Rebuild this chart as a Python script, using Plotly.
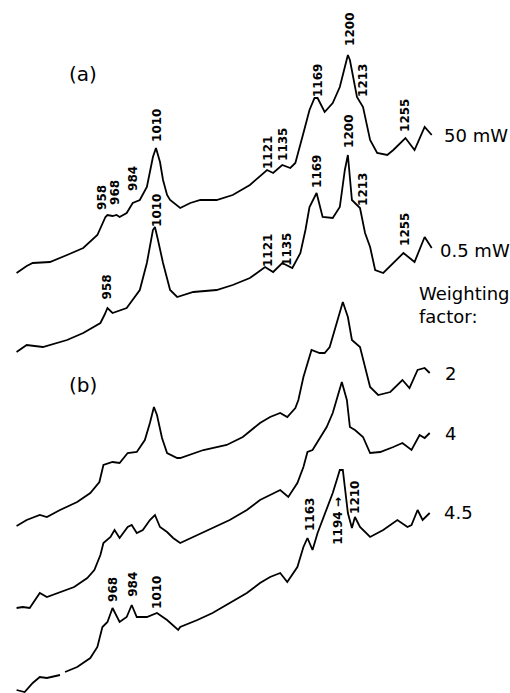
import plotly.graph_objects as go

# Wavenumbers (cm^-1) and intensities (arbitrary units, stacked)
wn_50mw = [872, 882, 888, 905, 922, 938, 952, 955, 960, 962, 967, 971, 974, 981, 987, 994, 1001, 1004,
           1007, 1010, 1012, 1014, 1017, 1021, 1024, 1034, 1044, 1054, 1070, 1086, 1103, 1120, 1126,
           1135, 1143, 1148, 1156, 1162, 1167, 1170, 1177, 1185, 1192, 1197, 1200, 1202, 1205, 1209,
           1215, 1222, 1229, 1239, 1245, 1257, 1266, 1276, 1283]
int_50mw = [420, 427, 430, 431, 438, 445, 458, 465, 476, 478, 477, 478, 476, 480, 490, 493, 506, 521,
            536, 545, 538, 531, 513, 498, 493, 485, 490, 493, 493, 498, 508, 523, 520,
            528, 525, 530, 560, 583, 595, 595, 581, 590, 606, 628, 638, 633, 616, 596,
            586, 553, 540, 538, 543, 555, 543, 566, 558]

wn_05mw = [872, 882, 898, 922, 938, 955, 959, 962, 967, 981, 994, 1001, 1007, 1009, 1012, 1017, 1024,
           1031, 1047, 1070, 1086, 1103, 1118, 1126, 1135, 1145, 1153, 1158, 1162, 1169, 1175, 1185,
           1192, 1197, 1200, 1204, 1212, 1217, 1222, 1227, 1235, 1245, 1255, 1266, 1276, 1283]
int_05mw = [341, 348, 346, 353, 360, 370, 378, 385, 380, 385, 403, 430, 463, 466, 453, 430, 403,
            396, 401, 403, 408, 415, 426, 421, 430, 425, 440, 463, 486, 500, 476, 475,
            486, 523, 538, 493, 485, 460, 446, 423, 420, 430, 440, 431, 456, 445]

wn_w2 = [872, 882, 895, 902, 915, 932, 945, 954, 958, 967, 974, 982, 991, 999, 1004, 1008, 1011,
         1016, 1021, 1031, 1034, 1057, 1080, 1096, 1113, 1123, 1133, 1140, 1148, 1151, 1156, 1164,
         1172, 1177, 1182, 1189, 1195, 1200, 1204, 1212, 1217, 1222, 1230, 1242, 1254, 1261, 1269,
         1276, 1281]
int_w2 = [167, 173, 178, 176, 183, 191, 200, 211, 228, 231, 230, 240, 241, 253, 270, 286, 278,
          255, 240, 235, 235, 243, 248, 256, 270, 276, 280, 276, 285, 293, 316, 343,
          340, 340, 346, 370, 391, 376, 353, 346, 326, 306, 298, 301, 313, 305, 323,
          325, 320]

wn_w4 = [872, 878, 885, 895, 902, 915, 929, 942, 949, 955, 958, 965, 969, 974, 982, 986, 991, 997,
         1004, 1009, 1014, 1021, 1027, 1034, 1051, 1066, 1083, 1100, 1113, 1123, 1133, 1141, 1150,
         1156, 1160, 1165, 1169, 1179, 1185, 1189, 1194, 1199, 1202, 1207, 1215, 1222, 1232, 1245,
         1254, 1263, 1271, 1276, 1281]
int_w4 = [85, 86, 85, 100, 96, 101, 106, 115, 123, 138, 150, 156, 163, 155, 166, 168, 160, 163,
          173, 178, 166, 161, 155, 150, 158, 165, 173, 183, 193, 198, 203, 196, 210,
          226, 241, 243, 250, 266, 280, 293, 311, 293, 266, 263, 256, 240, 241, 246,
          250, 243, 258, 255, 260]

wn_w45 = [872, 880, 888, 895, 902, 915, None, 920, 932, 945, 952, 957, 962, 967, 974, 981, 986,
          991, 1001, 1011, 1021, 1032, 1034, 1051, 1066, 1083, 1100, 1113, 1123, 1133, 1140, 1150,
          1156, 1160, 1165, 1170, 1179, 1185, 1189, 1192, 1195, 1200, 1204, 1207, 1212, 1222, 1235,
          1249, 1259, 1263, 1269, 1274, 1281]
int_w45 = [3, 1, 10, 16, 15, 18, None, 21, 26, 35, 46, 66, 71, 85, 71, 76, 88,
           76, 76, 80, 73, 63, 66, 73, 80, 90, 100, 110, 116, 120, 111, 126,
           146, 155, 143, 160, 183, 200, 213, 223, 223, 180, 165, 176, 166, 156, 163,
           173, 166, 168, 183, 173, 180]

# Peak labels: (text, wavenumber position, intensity position)
peak_labels = [
    ("958", 956.5, 496), ("968", 969.4, 501), ("984", 987.2, 515), ("1010", 1011, 568),
    ("1121", 1120.9, 541), ("1135", 1135.7, 549), ("1169", 1170.4, 613), ("1200", 1202, 664),
    ("1213", 1214.9, 613), ("1255", 1256.5, 578),
    ("958", 962, 406), ("1010", 1011, 483), ("1121", 1120.9, 443), ("1135", 1139.7, 444),
    ("1169", 1169.4, 522), ("1200", 1201, 562), ("1213", 1214.9, 504), ("1255", 1256.5, 464),
    ("968", 967.4, 104), ("984", 987, 109), ("1010", 1011, 101), ("1163", 1162.5, 178),
    ("1194 \u2192", 1190, 172), ("1210", 1207, 196),
]

side_labels = [
    ("50 mW", 1293, 558), ("0.5 mW", 1289, 443), ("Weighting<br>factor:", 1268.4, 388),
    ("2", 1294, 320), ("4", 1294, 260), ("4.5", 1293, 181),
]
panel_labels = [("(a)", 921.9, 619), ("(b)", 921.9, 308)]

fig = go.Figure()
for xs, ys in [(wn_50mw, int_50mw), (wn_05mw, int_05mw), (wn_w2, int_w2),
               (wn_w4, int_w4), (wn_w45, int_w45)]:
    fig.add_trace(go.Scatter(x=xs, y=ys, mode="lines",
                             line=dict(color="black", width=1.8),
                             showlegend=False, hoverinfo="skip"))

annotations = []
for text, x, y in peak_labels:
    annotations.append(dict(x=x, y=y, text="<b>" + text + "</b>", textangle=-90, showarrow=False,
                            xanchor="center", yanchor="middle",
                            font=dict(family="DejaVu Sans", size=12, color="black")))
for text, x, y in side_labels:
    annotations.append(dict(x=x, y=y, text=text, showarrow=False, align="left",
                            xanchor="left", yanchor="middle",
                            font=dict(family="DejaVu Sans", size=18, color="black")))
for text, x, y in panel_labels:
    annotations.append(dict(x=x, y=y, text=text, showarrow=False,
                            xanchor="left", yanchor="middle",
                            font=dict(family="DejaVu Sans", size=20, color="black")))

fig.update_layout(
    width=510, height=693,
    margin=dict(l=0, r=0, t=0, b=0),
    paper_bgcolor="white", plot_bgcolor="white",
    xaxis=dict(range=[855.6, 1360.5], visible=False),
    yaxis=dict(range=[0, 693], visible=False),
    annotations=annotations,
)
fig.write_html("out.html")
